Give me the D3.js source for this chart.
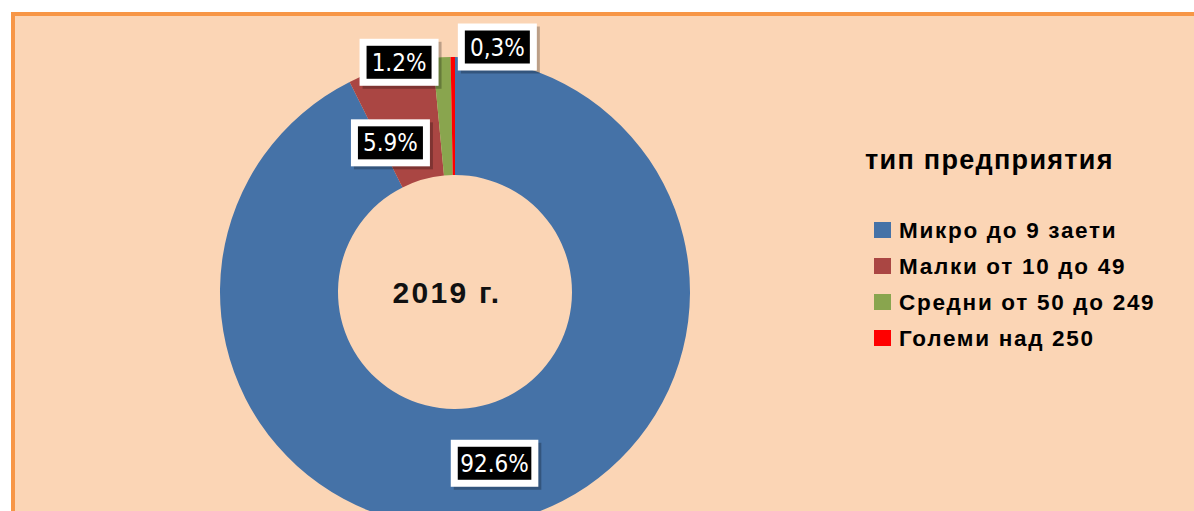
<!DOCTYPE html>
<html><head><meta charset="utf-8">
<script src="https://cdn.jsdelivr.net/npm/d3@7"></script>
<style>html,body{margin:0;padding:0;background:#fff;overflow:hidden}</style>
</head><body>
<script>
const categories = ["Микро до 9 заети","Малки от 10 до 49","Средни от 50 до 249","Големи над 250"];
const values = [92.6, 5.9, 1.2, 0.3];
const labels = ["92.6%","5.9%","1.2%","0,3%"];
const colors = ["#4572A7","#AA4643","#89A54E","#FF0000"];
const legendTitle = "тип предприятия";
const centerText = "2019 г.";

const W = 1194, H = 511;
const svg = d3.select("body").append("svg").attr("width", W).attr("height", H);
svg.append("rect").attr("x",13).attr("y",14).attr("width",W+20).attr("height",H+20)
  .attr("fill","#FBD5B5").attr("stroke","#F79646").attr("stroke-width",4);

const cx = 455, cy = 292, R = 235, r = 117;
const pie = d3.pie().sort(null).value(d => d)(values);
const arc = d3.arc().innerRadius(r).outerRadius(R);
const g = svg.append("g").attr("transform", `translate(${cx},${cy})`);
g.selectAll("path").data(pie).join("path").attr("d", arc).attr("fill", (d,i)=>colors[i]);

g.append("text").attr("x",-8).attr("y",11).attr("text-anchor","middle")
  .attr("font-family","Liberation Sans, Arial").attr("font-weight","bold").attr("font-size",30)
  .attr("letter-spacing",2.3).attr("fill","#111").text(centerText);

// label offsets from centroid (layout)
const offs = [[-1,0],[-16,20],[-46,-54],[44,-69]];
pie.forEach((d,i) => {
  const c = arc.centroid(d);
  const x = c[0] + offs[i][0], y = c[1] + offs[i][1];
  const lg = g.append("g").attr("transform", `translate(${x},${y})`);
  const t = lg.append("text").attr("text-anchor","middle").attr("y",8.5)
    .attr("font-family","DejaVu Sans Condensed, DejaVu Sans").attr("font-stretch","condensed")
    .attr("font-size",24).attr("fill","#fff").text(labels[i]);
  const w = t.node().getComputedTextLength();
  const bw = Math.max(w + 5, 65), bh = 33;
  lg.insert("rect","text").attr("x",-bw/2-7+3).attr("y",-bh/2-7+3).attr("width",bw+14).attr("height",bh+14)
    .attr("fill","rgba(0,0,0,0.25)");
  lg.insert("rect","text").attr("x",-bw/2-7).attr("y",-bh/2-7).attr("width",bw+14).attr("height",bh+14).attr("fill","#fff");
  lg.insert("rect","text").attr("x",-bw/2).attr("y",-bh/2).attr("width",bw).attr("height",bh).attr("fill","#000");
});

const leg = svg.append("g");
leg.append("text").attr("x",865).attr("y",169).attr("font-family","Liberation Sans, Arial")
  .attr("font-weight","bold").attr("font-size",27).attr("letter-spacing",1.3).attr("fill","#000").text(legendTitle);
categories.forEach((c,i) => {
  const y = 230 + i*36;
  leg.append("rect").attr("x",874).attr("y",y-8).attr("width",17).attr("height",16).attr("fill",colors[i]);
  leg.append("text").attr("x",899).attr("y",y+8).attr("font-family","Liberation Sans, Arial")
    .attr("font-weight","bold").attr("font-size",22.5).attr("letter-spacing",1.7).attr("fill","#000").text(c);
});
</script>
</body></html>
